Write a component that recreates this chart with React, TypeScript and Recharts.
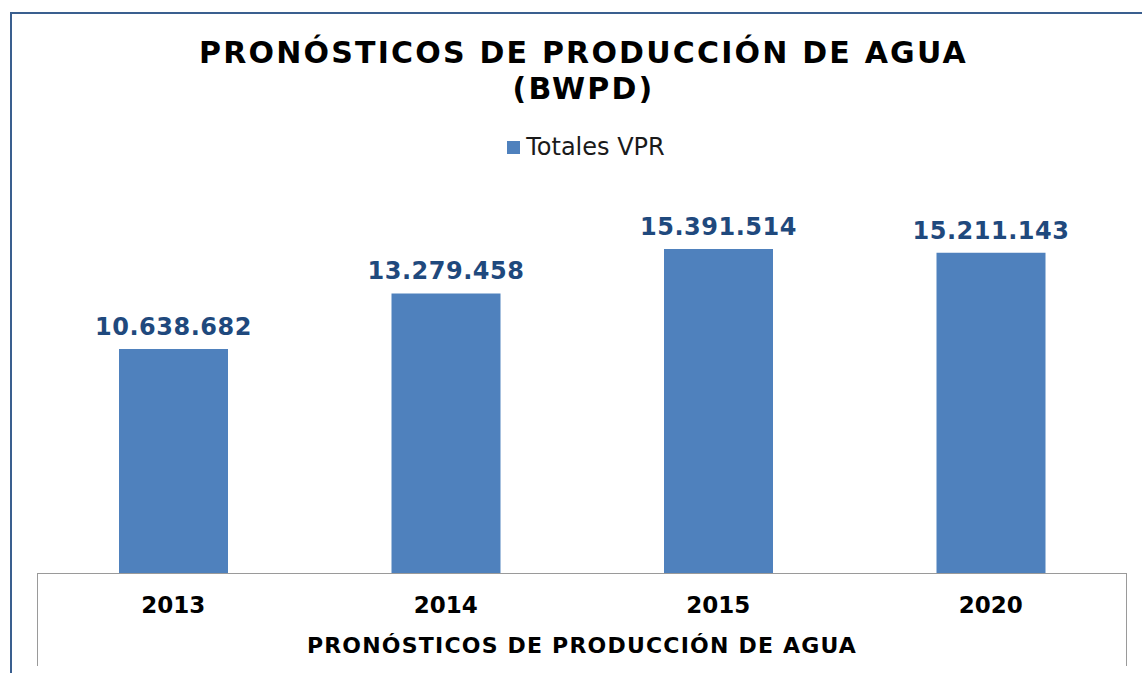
import React from 'react';
import { BarChart, Bar, XAxis, YAxis, Legend, LabelList } from 'recharts';

const years = ['2013', '2014', '2015', '2020'];
const totalesVPR = [10638682, 13279458, 15391514, 15211143];

const data = years.map((year, i) => ({ year, total: totalesVPR[i] }));

const FONT = '"DejaVu Sans", Verdana, sans-serif';
const BAR_COLOR = '#4F81BD';

const fmt = (v: number) => v.toLocaleString('de-DE');

const LegendBox = () => (
  <div style={{ display: 'flex', justifyContent: 'center', alignItems: 'center', fontFamily: FONT, fontSize: 24, color: '#1a1a1a' }}>
    <span style={{ display: 'inline-block', width: 13, height: 13, background: BAR_COLOR, marginRight: 6 }} />
    <span>Totales VPR</span>
  </div>
);

const App: React.FC = () => {
  return (
    <div style={{ position: 'absolute', left: 0, top: 0, width: 1142, height: 673, background: '#fff', overflow: 'hidden' }}>
      {/* chart area border */}
      <div style={{ position: 'absolute', left: 10, top: 12, width: 1200, height: 800, border: '2px solid #3A5F8F', boxSizing: 'border-box' }} />
      {/* category axis box */}
      <div style={{ position: 'absolute', left: 37, top: 573, width: 1090, height: 93, borderLeft: '1px solid #9a9a9a', borderRight: '1px solid #9a9a9a', borderTop: '1px solid #9a9a9a', boxSizing: 'border-box' }} />
      <div style={{ position: 'absolute', left: 0, top: 35, width: 1167, textAlign: 'center', fontFamily: FONT, fontWeight: 'bold', fontSize: 30, lineHeight: '36px', letterSpacing: 2.2, color: '#000' }}>
        PRONÓSTICOS DE PRODUCCIÓN DE AGUA<br />(BWPD)
      </div>
      <BarChart
        width={1142}
        height={673}
        data={data}
        margin={{ top: 194, right: 15, bottom: 0, left: 37 }}
        barCategoryGap="30%"
        style={{ position: 'absolute', left: 0, top: 0 }}
      >
        <XAxis
          dataKey="year"
          height={100}
          axisLine={false}
          tickLine={false}
          tickSize={0}
          tickMargin={24}
          tick={{ fontFamily: FONT, fontWeight: 'bold', fontSize: 23, fill: '#000' }}
          label={{ value: 'PRONÓSTICOS DE PRODUCCIÓN DE AGUA', position: 'insideBottom', offset: 20, fontFamily: FONT, fontWeight: 'bold', fontSize: 22, letterSpacing: 1.2, fill: '#000' }}
        />
        <YAxis hide domain={[0, 18000000]} />
        <Legend
          verticalAlign="middle"
          align="center"
          content={<LegendBox />}
          wrapperStyle={{ top: 133, left: 15, width: 1142 }}
        />
        <Bar dataKey="total" name="Totales VPR" fill={BAR_COLOR} barSize={109} isAnimationActive={false}>
          <LabelList
            dataKey="total"
            position="top"
            offset={14}
            formatter={(v: any) => fmt(Number(v))}
            style={{ fontFamily: FONT, fontWeight: 'bold', fontSize: 24, letterSpacing: 0.5, fill: '#1F497D' }}
          />
        </Bar>
      </BarChart>
    </div>
  );
};

export default App;
